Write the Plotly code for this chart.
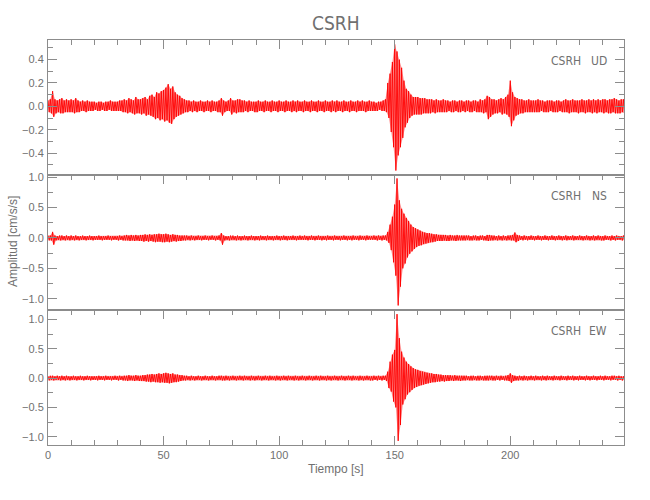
import plotly.graph_objects as go

# ---------------- data ----------------
# 1-second windows; per window the maximum and (magnitude of) minimum
# of the acceleration trace, in hundredths of cm/s/s
tiempo = list(range(250))
ESCALA = 0.01

ud_max = [5,6,13,6,5,6,7,5,6,5,
          6,5,7,5,4,5,4,5,4,4,
          4,3,4,4,3,4,4,5,4,4,
          4,5,5,6,5,7,6,5,8,6,
          6,7,8,6,9,10,8,12,11,13,
          14,16,19,15,17,12,10,9,7,6,
          5,5,4,5,4,4,5,4,4,5,
          4,5,4,4,5,7,5,4,5,7,
          5,5,6,6,5,5,4,5,4,4,
          4,5,4,4,5,4,4,5,4,4,
          5,4,4,5,4,4,5,4,5,4,
          4,5,4,4,5,4,4,5,4,4,
          5,4,4,5,4,5,4,4,5,4,
          4,5,4,4,5,4,5,4,4,5,
          4,4,3,4,4,5,6,20,28,38,
          53,47,40,33,22,15,13,10,8,8,
          8,7,7,7,6,6,6,5,6,5,
          5,6,5,5,4,5,5,4,5,5,
          4,5,5,4,5,5,4,6,5,6,
          9,8,6,6,5,6,7,6,8,10,
          22,12,8,7,6,6,5,5,6,5,
          5,5,6,5,5,4,5,5,5,4,
          5,5,4,5,6,5,5,6,5,5,
          5,6,5,5,6,5,6,5,6,5,
          6,6,5,6,6,7,6,5,6,6]
ud_min = [5,6,9,6,5,6,6,5,5,5,
          5,6,5,5,4,4,5,4,4,4,
          3,4,4,3,4,4,3,4,4,4,
          4,4,5,5,6,5,6,7,6,6,
          7,6,8,7,8,9,11,10,12,11,
          13,12,14,15,11,9,8,7,6,5,
          5,4,5,4,5,4,4,5,4,4,
          5,4,4,5,5,8,5,4,4,7,
          5,6,5,5,5,4,5,4,4,5,
          5,4,4,5,4,4,5,4,4,5,
          4,4,5,4,4,5,4,5,4,4,
          5,4,4,5,4,4,5,4,4,5,
          4,4,5,4,5,4,4,5,4,4,
          5,4,4,5,4,4,4,5,4,4,
          4,4,4,3,4,4,5,10,22,35,
          55,42,35,27,18,14,10,8,7,7,
          7,7,6,6,6,6,5,6,5,5,
          5,5,5,4,5,5,4,5,5,4,
          5,4,5,5,4,5,5,5,6,5,
          11,9,7,6,6,5,7,6,7,9,
          17,12,8,7,6,6,5,5,5,5,
          5,5,5,4,5,5,5,4,5,5,
          5,4,5,5,5,6,5,5,5,6,
          5,5,6,5,5,6,5,6,5,5,
          6,5,6,6,5,6,6,6,5,6]

ns_max = [4,4,10,4,3,4,4,3,4,3,
          4,3,4,3,3,4,3,3,4,3,
          3,3,4,3,3,3,4,3,3,3,
          3,4,3,4,5,4,5,4,5,4,
          5,5,6,5,6,5,6,6,7,6,
          6,7,6,5,6,5,5,4,4,4,
          4,3,4,3,3,4,3,3,4,3,
          3,4,3,3,4,8,4,3,3,4,
          4,3,4,3,3,4,3,3,4,3,
          3,3,4,3,3,4,3,3,3,4,
          3,3,4,3,3,3,4,3,3,4,
          3,4,3,3,4,3,3,4,3,3,
          3,4,3,3,4,3,3,3,4,3,
          3,3,4,3,3,4,3,3,4,3,
          3,4,3,4,3,4,4,10,22,35,
          55,98,62,48,40,33,28,22,18,16,
          14,12,10,9,8,8,7,6,6,5,
          5,5,5,4,5,4,4,5,4,4,
          4,4,4,3,4,4,3,4,4,3,
          5,5,4,4,3,4,3,4,3,4,
          4,5,9,5,4,3,4,3,3,4,
          3,3,4,3,3,4,3,3,4,3,
          3,4,3,3,4,3,3,4,3,3,
          4,3,3,4,3,3,4,3,4,3,
          3,4,3,3,4,3,4,3,3,4]
ns_min = [4,4,11,4,3,4,3,4,3,4,
          3,4,3,4,3,3,4,3,3,4,
          3,3,3,4,3,3,3,4,3,3,
          4,3,4,4,4,5,4,5,4,5,
          5,6,5,6,5,6,7,6,6,7,
          7,6,7,6,5,6,5,5,4,4,
          3,4,3,4,3,3,4,3,3,4,
          3,3,4,3,4,11,4,3,4,3,
          3,4,3,4,3,3,4,3,3,4,
          3,4,3,3,4,3,3,4,3,3,
          4,3,3,4,3,3,3,4,3,3,
          3,3,4,3,3,4,3,3,4,3,
          4,3,3,4,3,3,4,3,3,4,
          3,4,3,3,4,3,3,4,3,3,
          3,3,4,3,4,3,4,8,20,40,
          62,111,80,50,42,32,26,22,18,15,
          13,12,10,9,8,7,7,6,5,5,
          5,4,5,5,4,4,5,4,4,4,
          4,3,4,4,3,4,4,3,4,4,
          5,4,4,3,4,3,4,3,4,3,
          4,4,7,5,3,4,3,4,3,3,
          4,3,3,4,3,3,4,3,3,4,
          3,3,4,3,4,3,3,4,3,3,
          3,4,3,3,4,3,4,3,3,4,
          4,3,3,4,3,4,3,3,4,3]

ew_max = [3,4,4,3,4,3,4,3,4,3,
          3,4,3,3,4,3,3,4,3,3,
          3,3,4,3,3,4,3,3,3,4,
          3,4,3,4,4,5,4,4,5,4,
          4,5,5,6,6,7,6,7,8,7,
          8,9,8,7,8,6,6,5,5,4,
          4,3,4,3,3,4,3,3,4,3,
          3,4,3,3,4,4,3,4,3,3,
          4,3,3,4,3,4,3,3,4,3,
          3,4,3,3,4,3,4,3,3,4,
          3,3,4,3,4,3,3,4,3,3,
          4,3,3,4,3,3,4,3,4,3,
          3,4,3,3,4,3,3,4,3,3,
          4,3,4,3,3,4,3,3,4,3,
          3,4,3,4,3,4,4,11,28,40,
          48,109,68,45,35,28,24,20,17,15,
          14,12,11,10,9,8,8,7,7,6,
          6,5,5,5,5,4,5,4,4,4,
          4,4,3,4,4,3,4,4,3,4,
          4,4,4,3,4,3,4,3,4,5,
          8,5,4,3,4,3,4,3,3,4,
          3,4,3,3,4,3,4,3,3,4,
          3,3,4,3,3,4,3,4,3,3,
          4,3,3,4,3,3,4,3,3,4,
          3,4,3,3,4,4,3,4,3,3]
ew_min = [4,3,4,3,3,4,3,4,3,4,
          3,3,4,3,3,4,3,3,4,3,
          3,4,3,3,4,3,3,4,3,3,
          4,3,4,4,5,4,4,5,4,5,
          5,5,6,6,7,6,7,7,8,7,
          8,8,9,8,7,7,6,5,4,4,
          3,4,3,4,3,3,4,3,3,4,
          3,3,4,3,3,4,4,3,4,3,
          3,4,3,3,4,3,3,4,3,4,
          3,3,4,3,3,4,3,3,4,3,
          4,3,3,4,3,3,4,3,4,3,
          3,4,3,3,4,3,3,4,3,3,
          4,3,4,3,3,4,3,3,4,3,
          3,4,3,3,4,3,4,3,3,4,
          4,3,4,3,4,3,5,17,23,40,
          50,107,80,45,36,28,24,20,17,15,
          13,12,11,10,9,8,7,7,6,6,
          5,6,5,5,4,5,4,4,5,4,
          4,3,4,4,3,4,4,3,4,4,
          4,3,4,4,3,4,3,4,4,5,
          8,5,4,4,3,4,3,4,3,3,
          4,3,3,4,3,4,3,3,4,3,
          3,4,3,3,4,3,3,4,3,4,
          3,3,4,3,4,3,3,4,3,3,
          4,3,3,4,3,3,4,3,4,3]

estacion = "CSRH"
componentes = ["UD", "NS", "EW"]
rangos_y = {"UD": [-0.588, 0.568], "NS": [-1.185, 1.036], "EW": [-1.14, 1.16]}
rango_x = [0, 249.2]
ticks_x = [0, 50, 100, 150, 200]

series = {"UD": (ud_max, ud_min), "NS": (ns_max, ns_min), "EW": (ew_max, ew_min)}
for k, (a, b) in series.items():
    assert len(a) == len(tiempo) and len(b) == len(tiempo), k

# ---------------- figure ----------------
FONT = "Liberation Sans Narrow, DejaVu Sans Condensed, Liberation Sans, sans-serif"
FONT2 = "Liberation Sans, sans-serif"
GRIS = "#8c8c8c"
TXT = "#707070"

fig = go.Figure()
ejes = {"UD": ("x3", "y3"), "NS": ("x2", "y2"), "EW": ("x", "y")}
for comp in componentes:
    mx, mn = series[comp]
    xa, ya = ejes[comp]
    # envelope band (lighter, like the anti-aliased spikes)
    up_x = list(tiempo)
    up_y = [a * ESCALA for a in mx]
    lo_x = [t + 0.5 for t in tiempo][::-1]
    lo_y = [-b * ESCALA for b in mn][::-1]
    fig.add_trace(go.Scatter(x=up_x + lo_x, y=up_y + lo_y, mode="lines",
                             fill="toself", fillcolor="rgba(255,40,40,0.5)",
                             line=dict(width=0), xaxis=xa, yaxis=ya,
                             showlegend=False, hoverinfo="skip"))
    # trace oscillating between the window extremes
    xs, ys = [], []
    for t, a, b in zip(tiempo, mx, mn):
        xs += [t, t + 0.5]
        ys += [a * ESCALA, -b * ESCALA]
    fig.add_trace(go.Scatter(x=xs, y=ys, mode="lines", xaxis=xa, yaxis=ya,
                             line=dict(color="#ff0000", width=0.9),
                             showlegend=False, hoverinfo="skip"))

base = dict(showline=True, linecolor=GRIS, linewidth=1, ticks="inside",
            tickcolor=GRIS, tickwidth=1, showgrid=False, zeroline=False,
            tickfont=dict(family=FONT2, size=11, color=TXT))

xbase = dict(base, range=rango_x, tickvals=ticks_x, ticklen=9,
             minor=dict(dtick=10, tick0=0, ticklen=5, ticks="inside", tickcolor=GRIS, showgrid=False))
fig.update_layout(
    xaxis=dict(xbase, anchor="y", domain=[0, 1], mirror="allticks"),
    xaxis2=dict(xbase, anchor="y2", domain=[0, 1], side="top", mirror=True, showticklabels=False),
    xaxis3=dict(xbase, anchor="y3", domain=[0, 1], side="top", mirror=True, showticklabels=False),
)

def yax(comp, dom, dt, mdt):
    return dict(base, anchor={"UD": "x3", "NS": "x2", "EW": "x"}[comp], domain=dom,
                range=rangos_y[comp], dtick=dt, tick0=0, tickformat=".1f", ticklen=9,
                mirror="allticks", ticklabelstandoff=1,
                minor=dict(dtick=mdt, tick0=0, ticklen=5, ticks="inside", tickcolor=GRIS, showgrid=False))

fig.update_layout(
    yaxis=yax("EW", [0, 1/3], 0.5, 0.25),
    yaxis2=yax("NS", [1/3, 2/3], 0.5, 0.25),
    yaxis3=yax("UD", [2/3, 1], 0.2, 0.1),
)

L, R, T, B = 48, 26, 40, 55
W, H = 650, 500
PH = H - T - B
PW = W - L - R

def py(ypx):
    return (H - B - ypx) / PH

def px(xpx):
    return (xpx - L) / PW

ann = []
ann.append(dict(text=estacion, x=px(336), y=py(23), xref="paper", yref="paper",
                showarrow=False, xanchor="center", yanchor="middle",
                font=dict(family=FONT, size=19, color=TXT)))
ann.append(dict(text="Tiempo [s]", x=px(336), y=py(469), xref="paper", yref="paper",
                showarrow=False, xanchor="center", yanchor="middle",
                font=dict(family=FONT2, size=12, color=TXT)))
ann.append(dict(text="Amplitud [cm/s/s]", x=px(13), y=py(242), xref="paper", yref="paper",
                showarrow=False, xanchor="center", yanchor="middle", textangle=-90,
                font=dict(family=FONT2, size=12, color=TXT)))
for comp, ypos in zip(componentes, [61, 196, 331]):
    ann.append(dict(text=estacion, x=px(583), y=py(ypos), xref="paper", yref="paper",
                    showarrow=False, xanchor="right", yanchor="middle",
                    font=dict(family=FONT, size=12, color=TXT)))
    ann.append(dict(text=comp, x=px(609), y=py(ypos), xref="paper", yref="paper",
                    showarrow=False, xanchor="right", yanchor="middle",
                    font=dict(family=FONT, size=12, color=TXT)))

fig.update_layout(width=W, height=H, margin=dict(l=L, r=R, t=T, b=B),
                  paper_bgcolor="white", plot_bgcolor="white",
                  annotations=ann, showlegend=False)

fig.write_html("out.html", config={"displayModeBar": False},
               post_script="document.body.style.margin='0px';document.body.style.overflow='hidden';")
